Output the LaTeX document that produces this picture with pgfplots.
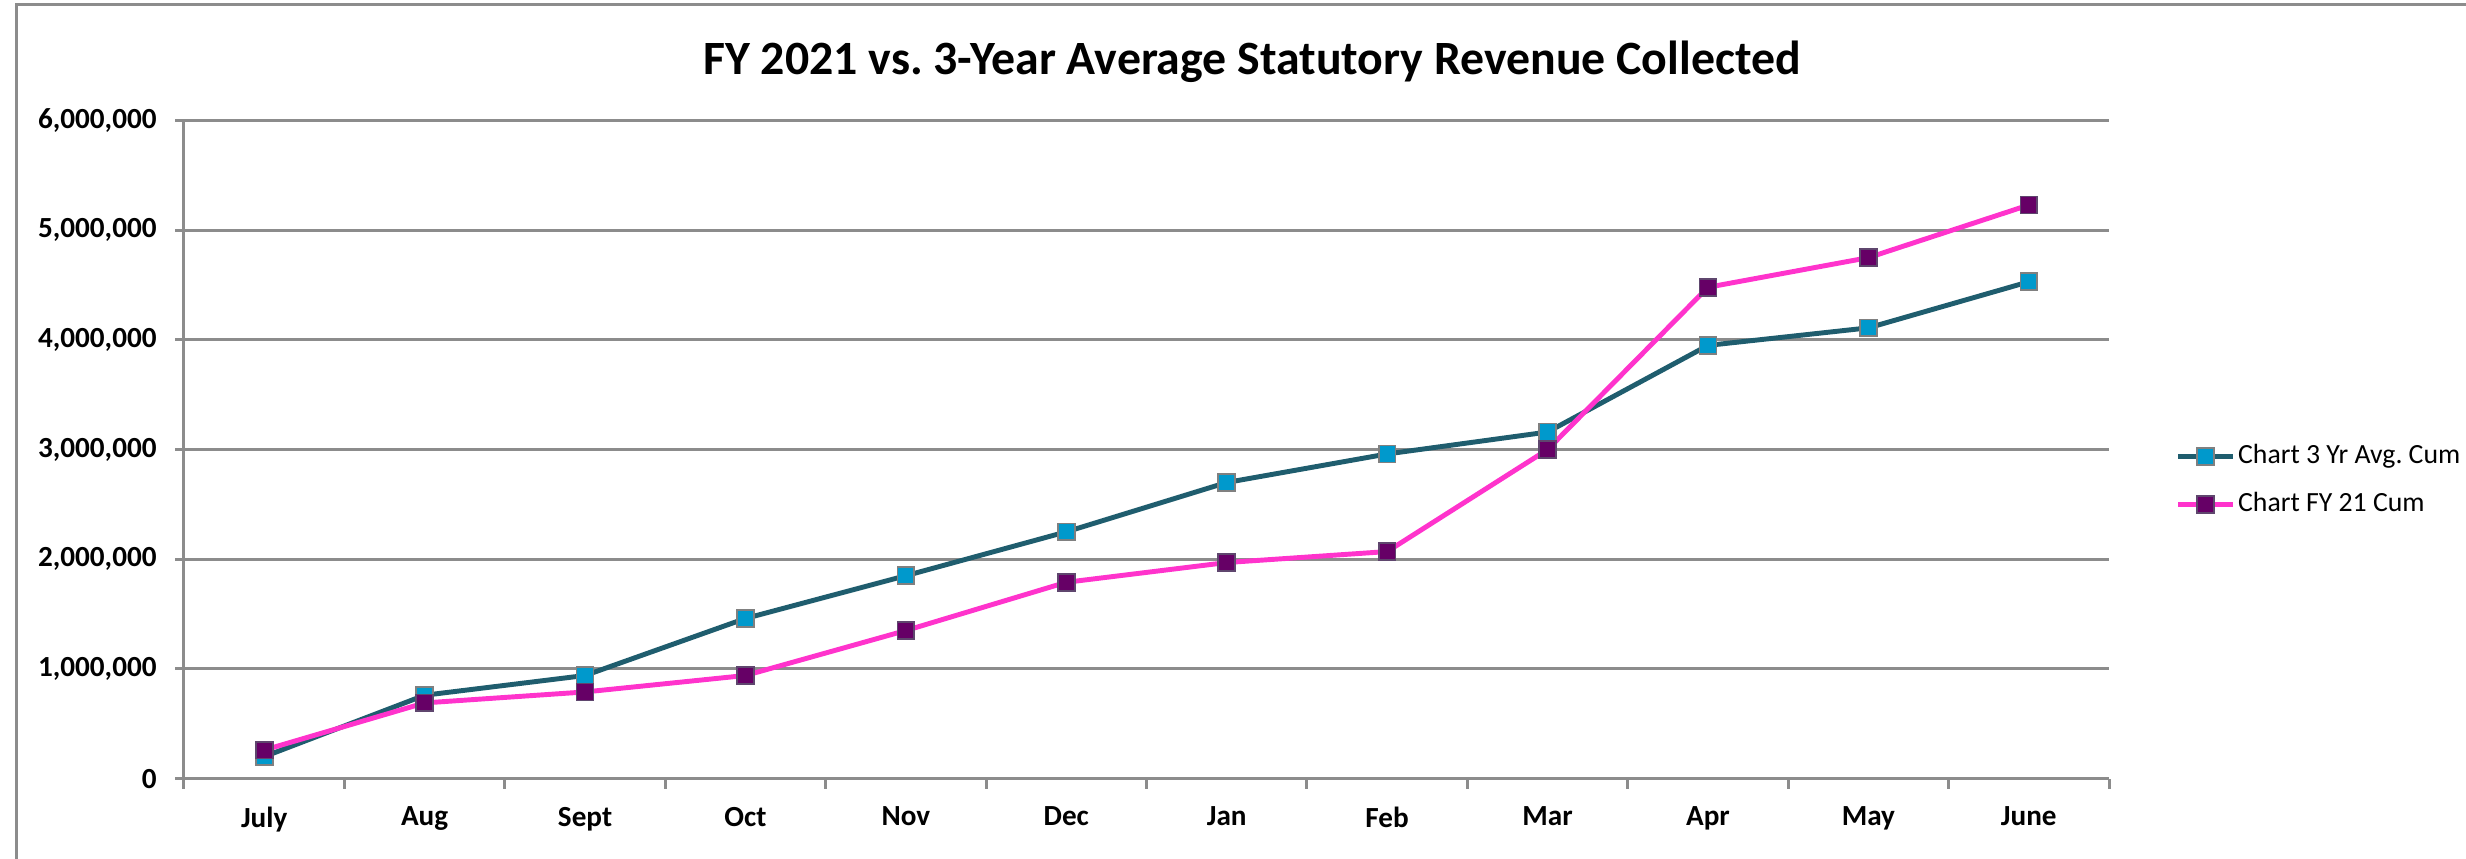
\documentclass[border=0pt]{standalone}
\usepackage{fontspec}
\setmainfont{Carlito}
\usepackage{pgfplots}
\pgfplotsset{compat=1.18}
\frenchspacing
\definecolor{tealline}{RGB}{31,93,110}
\definecolor{bluemark}{RGB}{0,153,204}
\definecolor{pinkline}{RGB}{255,51,204}
\definecolor{purplemark}{RGB}{102,0,102}
\definecolor{purpleedge}{RGB}{95,70,110}
\definecolor{gridgray}{RGB}{140,140,140}
\begin{document}
\begin{tikzpicture}[x=1mm,y=1mm]
\useasboundingbox (0,0) rectangle (246.6,85.9);
\draw[gridgray, line width=0.3mm] (1.6,0) -- (1.6,85.4) -- (246.6,85.4);
\node[anchor=base, inner sep=0pt, font=\bfseries\fontsize{13.6}{16}\selectfont] at (125.2,78.4) {FY 2021 vs. 3-Year Average Statutory Revenue Collected};
\begin{axis}[
  at={(18.4mm,8.04mm)}, anchor=south west,
  scale only axis, width=192.5mm, height=65.8mm,
  xmin=-0.5, xmax=11.5, ymin=0, ymax=6000000,
  xtick={0,...,11},
  xticklabels={July,Aug,Sept,Oct,Nov,Dec,Jan,Feb,Mar,Apr,May,June},
  minor xtick={-0.5,0.5,...,11.5},
  ytick={0,1000000,...,6000000},
  scaled y ticks=false,
  /pgf/number format/fixed,
  /pgf/number format/precision=0,
  /pgf/number format/1000 sep={,},
  /pgf/number format/assume math mode=true,
  tick label style={font=\bfseries\fontsize{8.3}{10}\selectfont, text=black},
  xticklabel style={yshift=-0.7mm},
  yticklabel style={xshift=-0.6mm},
  axis x line*=bottom, axis y line*=left,
  axis line style={gridgray, line width=0.3mm},
  tick align=outside,
  major x tick style={draw=none},
  minor x tick style={gridgray, line width=0.3mm},
  minor tick length=1mm,
  major y tick style={gridgray, line width=0.3mm},
  major tick length=0.9mm,
  ymajorgrids, grid style={gridgray, line width=0.3mm},
  clip=false,
  legend style={at={(1,0.453)}, anchor=west, xshift=6.6mm, draw=none, fill=none,
    font=\fontsize{7.9}{9}\selectfont, row sep=1.9mm, inner sep=0pt,
    nodes={inner sep=0.25mm}},
  legend cell align=left,
  legend image code/.code={\draw[mark repeat=2,mark phase=2] plot coordinates {(0cm,0cm) (0.275cm,0cm) (0.55cm,0cm)};},
]
\addplot[color=tealline, line width=1.4pt, mark=square*, mark size=2.4pt,
  mark options={fill=bluemark, draw=gray, line width=0.5pt}]
  coordinates {(0,200000) (1,760000) (2,940000) (3,1460000) (4,1850000) (5,2250000)
               (6,2700000) (7,2960000) (8,3160000) (9,3950000) (10,4110000) (11,4530000)};
\addlegendentry{Chart 3 Yr Avg. Cum}
\addplot[color=pinkline, line width=1.4pt, mark=square*, mark size=2.4pt,
  mark options={fill=purplemark, draw=purpleedge, line width=0.5pt}]
  coordinates {(0,260000) (1,690000) (2,790000) (3,940000) (4,1350000) (5,1790000)
               (6,1970000) (7,2070000) (8,3000000) (9,4480000) (10,4750000) (11,5230000)};
\addlegendentry{Chart FY 21 Cum}
\end{axis}
\end{tikzpicture}
\end{document}
